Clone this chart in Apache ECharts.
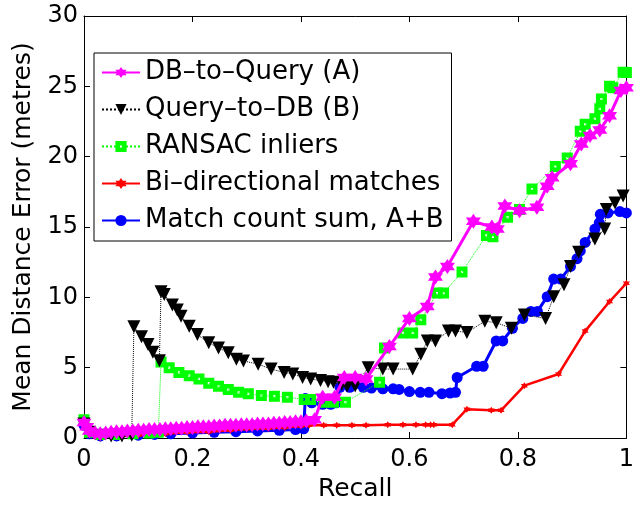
<!DOCTYPE html>
<html>
<head>
<meta charset="utf-8">
<script src="https://cdn.jsdelivr.net/npm/echarts@6/dist/echarts.min.js"></script>
<style>
  html, body { margin: 0; padding: 0; background: #fff; }
  #chart { width: 637px; height: 507px; }
</style>
</head>
<body>
<div id="chart"></div>
<script>
// data: recall (x) and mean distance error in metres (y)
const dbToQueryX = [0, 0.005, 0.01, 0.02, 0.03, 0.04, 0.05, 0.06, 0.07, 0.08, 0.09, 0.1, 0.11, 0.12, 0.13, 0.14, 0.15, 0.16, 0.17, 0.18, 0.19, 0.2,
  0.21, 0.22, 0.23, 0.24, 0.25, 0.26, 0.27, 0.28, 0.29, 0.3, 0.31, 0.32, 0.33, 0.34, 0.35, 0.36, 0.37, 0.38, 0.39, 0.4,
  0.41, 0.425, 0.44, 0.462, 0.48, 0.5, 0.52, 0.563, 0.6, 0.633, 0.648, 0.67, 0.718, 0.752, 0.762, 0.776, 0.803, 0.835,
  0.854, 0.863, 0.897, 0.917, 0.933, 0.951, 0.969, 0.99, 1.0];
const dbToQueryY = [1.1, 0.8, 0.5, 0.35, 0.3, 0.35, 0.4, 0.45, 0.45, 0.5, 0.5, 0.55, 0.55, 0.6, 0.6, 0.6, 0.65, 0.65, 0.7, 0.7, 0.75, 0.75,
  0.8, 0.8, 0.8, 0.85, 0.85, 0.9, 0.9, 0.9, 0.95, 0.95, 0.95, 1.0, 1.0, 1.0, 1.05, 1.05, 1.1, 1.1, 1.15, 1.15,
  1.2, 1.3, 2.9, 2.9, 4.3, 4.3, 4.2, 6.5, 8.5, 9.35, 11.45, 12.2, 15.4, 15.0, 14.85, 16.5, 16.15, 16.4,
  17.9, 18.5, 19.5, 20.9, 21.5, 21.9, 22.9, 24.7, 24.9];

const queryToDbX = [0, 0.01, 0.03, 0.05, 0.07, 0.088, 0.092, 0.106, 0.118, 0.127, 0.139,
  0.142, 0.148, 0.163, 0.172, 0.179, 0.194, 0.209, 0.23, 0.248, 0.266, 0.281, 0.294, 0.321, 0.345, 0.369, 0.385,
  0.403, 0.418, 0.436, 0.45, 0.46, 0.475, 0.485, 0.5, 0.524, 0.551, 0.57, 0.606, 0.621, 0.633, 0.648, 0.672,
  0.685, 0.706, 0.739, 0.76, 0.788, 0.812, 0.851, 0.866, 0.885, 0.897, 0.912, 0.942, 0.96, 0.963, 0.979, 0.994];
const queryToDbY = [1.0, 0.4, 0.2, 0.15, 0.15, 0.2, 7.9, 7.2, 6.65, 6.1, 5.5,
  10.4, 10.2, 9.45, 9.1, 8.65, 7.95, 7.35, 6.77, 6.4, 6.06, 5.6, 5.48, 5.25, 4.9, 4.66, 4.55,
  4.3, 4.2, 4.08, 4.0, 3.96, 3.8, 3.7, 3.7, 5.0, 4.9, 4.9, 4.9, 5.95, 6.9, 6.9, 7.6,
  7.6, 7.5, 8.3, 8.2, 7.8, 8.75, 8.5, 10.05, 10.9, 12.2, 13.2, 14.15, 14.85, 16.25, 16.7, 17.2];

const ransacX = [0, 0.01, 0.03, 0.06, 0.09, 0.12, 0.137,
  0.142, 0.157, 0.175, 0.194, 0.212, 0.23, 0.248, 0.266, 0.285, 0.303, 0.327, 0.351, 0.375, 0.406, 0.418,
  0.442, 0.46, 0.482, 0.545, 0.554, 0.588, 0.606, 0.621, 0.651, 0.663, 0.697, 0.742, 0.754, 0.781, 0.803,
  0.826, 0.869, 0.891, 0.915, 0.924, 0.942, 0.951, 0.954, 0.969, 0.975, 0.994, 1.0];
const ransacY = [1.3, 0.4, 0.25, 0.25, 0.3, 0.35, 0.4,
  5.4, 5.0, 4.66, 4.43, 4.2, 3.9, 3.68, 3.44, 3.25, 3.14, 3.02, 2.97, 2.9, 2.74, 2.74,
  2.55, 2.55, 2.55, 3.96, 6.4, 7.47, 7.47, 8.4, 10.3, 10.3, 11.8, 14.4, 14.3, 15.7, 16.25,
  17.7, 19.3, 19.9, 21.8, 22.3, 22.7, 23.4, 24.1, 25.0, 24.9, 26.0, 25.98];

const biDirX = [0, 0.01, 0.03, 0.06, 0.1, 0.15, 0.19, 0.23, 0.27, 0.3, 0.34, 0.37, 0.4, 0.415, 0.442, 0.466, 0.494,
  0.52, 0.56, 0.588, 0.612, 0.63, 0.639, 0.645, 0.679, 0.706, 0.751, 0.769, 0.812, 0.875, 0.924, 0.969, 1.0];
const biDirY = [1.0, 0.4, 0.2, 0.15, 0.2, 0.3, 0.4, 0.45, 0.55, 0.65, 0.7, 0.75, 0.85, 0.9, 0.9, 0.9, 0.9,
  0.9, 0.95, 0.95, 0.95, 0.95, 0.95, 0.95, 0.95, 2.05, 1.97, 1.97, 3.72, 4.55, 7.6, 9.7, 11.0];

const sumX = [0, 0.01, 0.03, 0.06, 0.1, 0.13, 0.16, 0.2, 0.24, 0.28, 0.32, 0.36, 0.39, 0.405,
  0.408, 0.42, 0.44, 0.455, 0.465, 0.472, 0.49, 0.515, 0.53, 0.551, 0.57, 0.581, 0.6, 0.62, 0.636, 0.66, 0.675,
  0.685, 0.688, 0.724, 0.736, 0.76, 0.772, 0.79, 0.809, 0.824, 0.836, 0.854, 0.866, 0.879, 0.897, 0.909, 0.915,
  0.924, 0.942, 0.95, 0.952, 0.966, 0.988, 1.0];
const sumY = [0.9, 0.3, 0.15, 0.15, 0.2, 0.25, 0.3, 0.35, 0.4, 0.45, 0.5, 0.55, 0.6, 0.65,
  2.8, 2.5, 2.4, 2.4, 2.5, 3.6, 3.6, 3.6, 3.55, 3.5, 3.5, 3.45, 3.3, 3.25, 3.25, 3.15, 3.2,
  3.25, 4.3, 5.1, 5.1, 6.9, 6.9, 7.8, 8.5, 9.0, 9.0, 10.05, 11.3, 11.3, 12.2, 12.75, 13.3,
  13.9, 14.85, 15.3, 15.9, 16.0, 16.1, 16.0];

const names = ['DB\u2013to\u2013Query (A)', 'Query\u2013to\u2013DB (B)', 'RANSAC inliers', 'Bi\u2013directional matches', 'Match count sum, A+B'];
const xTicks = [0, 0.2, 0.4, 0.6, 0.8, 1];

function pairs(xs, ys) {
  return xs.map((x, i) => [x, ys[i]]);
}

// matlab-like markers
const hexagram = 'path://M0,-10L2.9,-5L8.66,-5L5.8,0L8.66,5L2.9,5L0,10L-2.9,5L-8.66,5L-5.8,0L-8.66,-5L-2.9,-5Z';
const holedSquare = 'path://M0,0H10V10H0Z M4,4V6H6V4Z';

const font = 'DejaVu Sans';
const chart = echarts.init(document.getElementById('chart'), null, { renderer: 'canvas' });

const tickStyle = { show: true, inside: true, length: 6, lineStyle: { color: '#000', width: 1 } };
const lineAxis = { show: true, onZero: false, lineStyle: { color: '#000', width: 1 } };

chart.setOption({
  animation: false,
  backgroundColor: '#fff',
  textStyle: { fontFamily: font },
  grid: { left: 84, right: 4, top: 16, bottom: 64, containLabel: false },
  xAxis: [
    {
      type: 'value', min: 0, max: 1, interval: 0.2,
      name: 'Recall', nameLocation: 'middle', nameGap: 39,
      nameTextStyle: { fontFamily: font, fontSize: 25, color: '#000' },
      axisLine: lineAxis, axisTick: tickStyle, splitLine: { show: false },
      axisLabel: {
        fontFamily: font, fontSize: 24, color: '#000', margin: 10,
        formatter: v => (xTicks.includes(+v.toFixed(1)) ? String(+v.toFixed(1)) : '')
      }
    },
    {
      type: 'value', min: 0, max: 1, interval: 0.2, position: 'top',
      axisLine: lineAxis, axisTick: tickStyle, axisLabel: { show: false }, splitLine: { show: false }
    }
  ],
  yAxis: [
    {
      type: 'value', min: 0, max: 30, interval: 5,
      name: 'Mean Distance Error (metres)', nameLocation: 'middle', nameGap: 48,
      nameTextStyle: { fontFamily: font, fontSize: 25, color: '#000' },
      axisLine: lineAxis, axisTick: tickStyle, splitLine: { show: false },
      axisLabel: { fontFamily: font, fontSize: 24, color: '#000', margin: 6 }
    },
    {
      type: 'value', min: 0, max: 30, interval: 5, position: 'right',
      axisLine: lineAxis, axisTick: tickStyle, axisLabel: { show: false }, splitLine: { show: false }
    }
  ],
  legend: {
    data: names,
    orient: 'vertical',
    left: 94, top: 53,
    padding: [4, 8, 5, 7],
    itemGap: 6,
    itemWidth: 38, itemHeight: 14,
    backgroundColor: '#fff',
    borderColor: '#000', borderWidth: 1,
    textStyle: { fontFamily: font, fontSize: 26, color: '#000', lineHeight: 31 }
  },
  series: [
    {
      name: names[4], type: 'line', z: 3,
      data: pairs(sumX, sumY),
      lineStyle: { color: '#0000ff', width: 3 },
      itemStyle: { color: '#0000ff' },
      symbol: 'circle', symbolSize: 11
    },
    {
      name: names[3], type: 'line', z: 4,
      data: pairs(biDirX, biDirY),
      lineStyle: { color: '#ff0000', width: 2.5 },
      itemStyle: { color: '#ff0000' },
      symbol: hexagram, symbolSize: 7
    },
    {
      name: names[2], type: 'line', z: 5,
      data: pairs(ransacX, ransacY),
      lineStyle: { color: '#00ff00', width: 1, type: 'dotted' },
      itemStyle: { color: '#00ff00' },
      symbol: holedSquare, symbolSize: 11
    },
    {
      name: names[1], type: 'line', z: 6,
      data: pairs(queryToDbX, queryToDbY),
      lineStyle: { color: '#000', width: 1, type: 'dotted' },
      itemStyle: { color: '#000' },
      symbol: 'triangle', symbolRotate: 180, symbolSize: 13
    },
    {
      name: names[0], type: 'line', z: 7,
      data: pairs(dbToQueryX, dbToQueryY),
      lineStyle: { color: '#ff00ff', width: 3 },
      itemStyle: { color: '#ff00ff' },
      symbol: hexagram, symbolSize: 15
    }
  ]
});
</script>
</body>
</html>
